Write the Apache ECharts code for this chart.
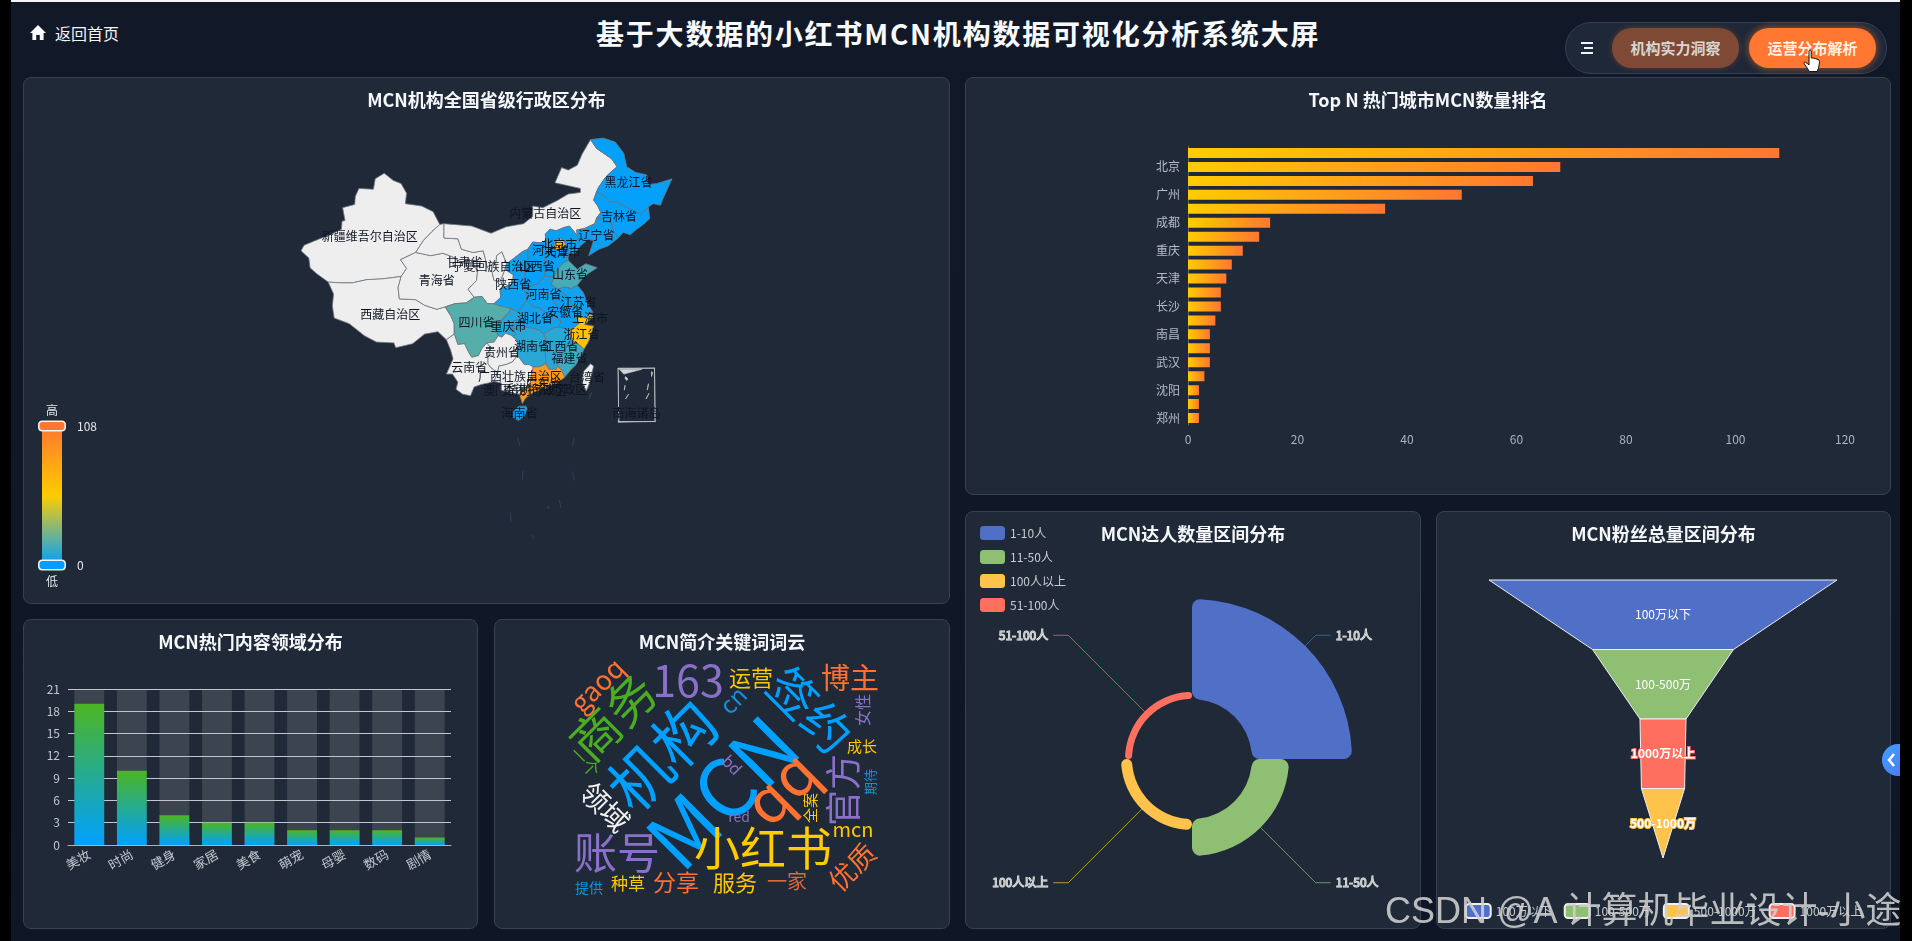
<!DOCTYPE html>
<html lang="zh-CN">
<head>
<meta charset="utf-8">
<title>基于大数据的小红书MCN机构数据可视化分析系统大屏</title>
<script src="https://cdn.jsdelivr.net/npm/echarts@6/dist/echarts.min.js"></script>
<style>
html,body{margin:0;padding:0;width:1912px;height:941px;overflow:hidden;background:#000;font-family:"Noto Sans CJK SC","Noto Sans",sans-serif}
#screen{position:absolute;left:11px;top:0;width:1889px;height:941px;background:linear-gradient(180deg,#111827 0,#0f1726 100%);border-top:2px solid #f4f4f4;box-sizing:border-box}
.panel{position:absolute;background:#1f2937;border:1px solid #364152;border-radius:8px;box-sizing:border-box;overflow:hidden}
.chart{position:absolute;left:-1px;top:-1px}
.abs{position:absolute}
#home{left:55px;top:21px;color:#f1f5f9;font-size:16px;line-height:24px}
#bigtitle{left:596px;top:12px;width:720px;text-align:center;color:#f8fafc;font-size:28px;font-weight:700;letter-spacing:1.8px;line-height:42px;white-space:nowrap}
#nav{left:1565px;top:22px;width:322px;height:52px;border-radius:26px;background:#1e2838;border:1px solid #344154;box-sizing:border-box}
.btn{position:absolute;top:28px;height:40px;width:127px;border-radius:20px;text-align:center;line-height:39px;font-size:15px;font-weight:700}
#b1{left:1612px;background:#7f4a35;color:#d9d6d2;box-shadow:0 0 6px rgba(255,119,48,.25)}
#b2{left:1749px;background:#ff7730;color:#fff1e6;box-shadow:0 0 8px rgba(255,119,48,.65)}
#tab{left:1882px;top:744px;width:18px;height:32px;background:linear-gradient(135deg,#3fa0ff,#4c7df5);border-radius:16px 0 0 16px;color:#fff}
#mark{left:1385px;top:889px;color:rgba(208,208,208,.88);font-size:36px;line-height:44px;white-space:nowrap;font-family:"Liberation Sans","Noto Sans CJK SC",sans-serif}
</style>
</head>
<body>
<div id="screen"></div>
<svg class="abs" style="left:29px;top:24px" width="18" height="18" viewBox="0 0 18 18"><path d="M9 1 L17 9 L14.6 9 L14.6 16 L10.8 16 L10.8 11 L7.2 11 L7.2 16 L3.4 16 L3.4 9 L1 9 Z" fill="#f8fafc"/></svg>
<div class="abs" id="home">返回首页</div>
<div class="abs" id="bigtitle">基于大数据的小红书MCN机构数据可视化分析系统大屏</div>
<div class="abs" id="nav"></div>
<svg class="abs" style="left:1580px;top:41px" width="14" height="14" viewBox="0 0 14 14"><path d="M1 2 H13 M4 7 H13 M1 12 H13" stroke="#f1f5f9" stroke-width="2"/></svg>
<div class="btn" id="b1">机构实力洞察</div>
<div class="btn" id="b2">运营分布解析</div>

<div class="panel" id="p1" style="left:23px;top:77px;width:927px;height:527px"><div class="chart" id="c1" style="width:927px;height:527px"></div></div>
<div class="panel" id="p2" style="left:965px;top:77px;width:926px;height:418px"><div class="chart" id="c2" style="width:926px;height:418px"></div></div>
<div class="panel" id="p3" style="left:23px;top:619px;width:455px;height:310px"><div class="chart" id="c3" style="width:455px;height:310px"></div></div>
<div class="panel" id="p4" style="left:494px;top:619px;width:456px;height:310px"><div class="chart" id="c4" style="width:456px;height:310px"></div></div>
<div class="panel" id="p5" style="left:965px;top:511px;width:456px;height:418px"><div class="chart" id="c5" style="width:456px;height:418px"></div></div>
<div class="panel" id="p6" style="left:1436px;top:511px;width:455px;height:418px"><div class="chart" id="c6" style="width:455px;height:418px"></div></div>

<div class="abs" id="tab"><svg width="18" height="32" viewBox="0 0 18 32"><path d="M12 10 L7 16 L12 22" stroke="#fff" stroke-width="2.6" fill="none"/></svg></div>
<svg class="abs" style="left:1802px;top:49px" width="20" height="24" viewBox="0 0 20 24"><path d="M7 2 C7 0.8 9.2 0.8 9.2 2 L9.2 9 L11.2 9 L13.2 9.6 L16 10.4 C17.4 11 17.6 12 17.4 14 L16.6 19 L15 22.5 L7.5 22.5 L2.2 14.8 C1.4 13.4 3 12.4 4 13.4 L7 16 Z" fill="#fff" stroke="#111" stroke-width="1"/></svg>
<div class="abs" id="mark">CSDN @A 计算机毕业设计-小途</div>

<script>
// ---------- values ----------
const provinceNames = ['北京市','广东省','浙江省','上海市','四川省','山东省','福建省','湖南省','江西省','重庆市','天津市','湖北省','江苏省','陕西省','河南省','安徽省','河北省','辽宁省','山西省','黑龙江省','吉林省','海南省'];
const provinceValues = [68,85,60,55,18,15,13,9,9,8,5,4,4,3,3,2,2,2,1,1,1,1];
const blankRegions = ['新疆维吾尔自治区','西藏自治区','青海省','甘肃省','宁夏回族自治区','内蒙古自治区','云南省','贵州省','广西壮族自治区','台湾省','香港特别行政区','澳门特别行政区'];

// 20 cities, bottom to top; the reference only prints every other name
const cityNames = ['郑州','','沈阳','','武汉','','南昌','','长沙','','天津','','重庆','','成都','','广州','','北京',''];
const cityCounts = [2,2,2,3,4,4,4,5,6,6,7,8,10,13,15,36,50,63,68,108];
const cityTicks = [0,20,40,60,80,100,120];

const domainNames = ['美妆','时尚','健身','家居','美食','萌宠','母婴','数码','剧情'];
const domainCounts = [19,10,4,3,3,2,2,2,1];

const talentBands = ['1-10人','11-50人','100人以上','51-100人'];
const talentCounts = [100,37,11,7];

const fanBands = ['100万以下','100-500万','500-1000万','1000万以上'];
const fanCounts = [121,49,15,16];

const cloudWords = ['MCN','小红书','机构','账号','商务','163','qq','签约','博主','运营','gaoq','cn','女性','成长','期待','官方','bd','red','全案','mcn','优质','领域','一家','服务','分享','种草','提供','一个'];
const cloudWeights = [80,46,62,43,49,43,60,48,29,22,27,24,16,15,13,36,16,14,15,20,27,28,20,22,23,17,14,17];
// ---------- cloud placement, separate from the words ----------
const cloudPlace = [[228,173,45],[269,229,0],[168,136,45],[123,234,0],[119,98,45],[194,62,0],[286,168,45],[316,91,-45],[356,59,0],[257,59,0],[103,66,45],[239,81,45],[369,91,90],[368,127,0],[376,163,90],[349,171,90],[238,146,-45],[245,198,0],[316,189,90],[359,210,0],[358,248,45],[111,188,-45],[293,262,0],[241,264,0],[182,263,0],[134,265,0],[95,269,0],[91,143,-45]];
const cloudInk = ['#00a0ff','#ffcc00','#00a0ff','#8a70c8','#4aae20','#8a70c8','#ff7130','#00a0ff','#ff7130','#ffc800','#ff7130','#1a8fd8','#8a70c8','#ffc800','#1a8fd8','#8a70c8','#8a70c8','#8a70c8','#ffc800','#ffc800','#ff7130','#f0f0f0','#e0683a','#ffc800','#ff7130','#ffc800','#1a8fd8','#4aae20'];

// ---------- province outlines (lon,lat), label anchor, since no map file can be loaded ----------
const outlines = [
['新疆维吾尔自治区',[84.9,41.2],[73.5,39.4,74,40.1,75.6,40.6,76.9,41,78.6,41.5,80.2,42.1,80.3,43.1,80.8,43.2,80.4,44.8,82.4,45.2,82.5,46.2,83.1,47.2,85.5,47.1,85.8,48.4,87.3,49.1,88.8,48.2,90.1,47.8,91,46.6,90.8,45.3,93.5,45,95.4,44.3,96.5,42.7,95.2,41.8,93.8,40.7,92.5,39.2,90,38.3,91,37.2,90.1,36.2,87,35.9,84.4,35.8,82,35.4,80,35.4,78,35.5,76,36.6,75,37.3,74.8,38.5]],
['西藏自治区',[88.3,31.5],[78,35.5,80,35.4,82,35.4,84.4,35.8,87,35.9,90.1,36.2,89.6,34.8,89.8,33.4,92.5,33.3,94,32.6,96,32.1,97.4,32.4,98.4,31.2,98.9,30.3,98.9,29,97.6,28.3,96.2,29.3,94,29,92,27.8,89.2,27.3,88.9,27.9,86,28,84,28.8,81.5,30.3,79,31,78.7,32.5,78.9,34]],
['青海省',[96,35.75],[92.5,39.2,95,38.8,97,39.1,98.5,38.7,100,38,101.8,37.7,102.8,37,102.6,35.7,101.2,34.6,102.2,33.6,100.9,32.9,99,32.8,97.4,32.4,96,32.1,94,32.6,92.5,33.3,89.8,33.4,89.6,34.8,90.1,36.2,91,37.2,90,38.3]],
['甘肃省',[100.6,37.9],[96.5,42.7,97.2,42.8,97.2,41,99.5,40.9,100.1,39.6,102,39.2,103.7,39.4,104.2,38,104.3,37.4,105.2,36.7,105.5,35.7,106.5,35.6,106.9,36.3,107.3,37.1,108.7,36.4,108.6,35.3,107.3,34.9,106.5,34.6,106.6,33.6,105.5,32.8,104.4,32.8,103.5,33.7,102.2,33.6,101.2,34.6,102.6,35.7,102.8,37,101.8,37.7,100,38,98.5,38.7,97,39.1,95,38.8,92.5,39.2,93.8,40.7,95.2,41.8]],
['宁夏回族自治区',[105.4,37.4],[104.3,37.4,105.2,36.7,105.5,35.7,106.5,35.6,106.9,36.3,107.3,37.1,107.6,37.8,106.8,39.3,105.9,38.8,105.8,37.9]],
['内蒙古自治区',[114,44.1],[97.2,42.8,100.3,42.6,101.8,42.5,105,41.6,107.5,42.4,110.4,42.8,111.9,43.7,111.9,45,113.6,44.8,116,45.7,117.8,46.5,119.8,46.7,119.8,47.2,115.6,47.9,116.7,49.8,117.8,49.5,119.3,50.1,120.1,51.5,121.5,53.3,122.5,52.2,125,50.9,125.9,49.9,124.5,49,123.9,48.5,122.8,47.3,122.5,46.8,122,45.75,122.7,45,123.2,44.2,122.5,43.5,122.2,42.8,120.5,42.2,119.2,42,119.3,41.3,118,42.5,117,42.3,115.8,41.9,114.8,42.1,114,41.5,114.1,40.7,113.2,40.4,111.9,40.5,111.1,39.6,110.2,39.3,108.5,38.3,107.6,37.8,106.8,39.3,105.9,38.8,105.8,37.9,104.3,37.4,104.2,38,103.7,39.4,102,39.2,100.1,39.6,99.5,40.9,97.2,41]],
['黑龙江省',[127.8,48],[121.5,53.3,123.6,53.5,125.6,53,127,51.6,127.5,49.9,129,49.2,130.8,48.9,131,47.7,132.5,47.8,135,48.4,133.5,45.9,133.1,45.1,131.9,45.3,131.1,44.9,129.8,43.9,128.5,44.5,127.3,44.9,125.9,45.5,124.7,45.5,123.9,46.2,122.5,46.8,122.8,47.3,123.9,48.5,124.5,49,125.9,49.9,125,50.9,122.5,52.2]],
['吉林省',[126.2,43.75],[122.5,46.8,123.9,46.2,124.7,45.5,125.9,45.5,127.3,44.9,128.5,44.5,129.8,43.9,131.1,44.9,131.3,43.4,130.4,42.8,129,42,128.1,41.4,126.9,41.7,126,40.95,125.2,42.1,125,42.8,124.4,43,123.6,43.4,122.5,43.5,123.2,44.2,122.7,45,122,45.75]],
['辽宁省',[122.5,41.3],[122.5,43.5,123.6,43.4,124.4,43,125,42.8,125.2,42.1,126,40.95,124.4,40,122.9,39.6,121.2,38.8,121.7,40,122,40.7,121,40.8,119.8,40,119.3,41.3,119.2,42,120.5,42.2,122.2,42.8]],
['河北省',[114.8,39.5],[119.3,41.3,118,42.5,117,42.3,115.8,41.9,114.8,42.1,114,41.5,114.1,40.7,114.3,39.6,113.9,38.5,113.7,37.1,114,36.3,115.4,36.1,116.2,37.3,117,37.9,117.8,38.2,117.7,39.1,118.9,39.1,119.8,40]],
['北京市',[116.3,40.25],[115.5,39.6,116.2,39.5,116.8,39.7,117.4,40.2,117,40.7,116.3,41,115.5,40.3]],
['天津市',[116.9,39.25],[116.9,39.7,117.2,38.6,117.8,38.6,117.8,39.3,117.7,40,117.3,40.1]],
['山西省',[112.6,37.5],[114.1,40.7,114.3,39.6,113.9,38.5,113.7,37.1,114,36.3,113.5,35.9,112.9,35.3,112,35.1,110.4,34.6,110.6,35.6,110.6,36.6,111.1,38,111.1,39.6,111.9,40.5,113.2,40.4]],
['陕西省',[108.7,35.25],[111.1,39.6,110.2,39.3,108.5,38.3,107.6,37.8,107.3,37.1,108.7,36.4,108.6,35.3,107.3,34.9,106.5,34.6,106.6,33.6,105.5,32.8,106.5,32.5,108.3,32.2,109.5,31.7,110.2,32.5,111,33.2,110.9,33.9,110.4,34.6,110.6,35.6,110.6,36.6,111.1,38]],
['河南省',[113.7,33.9],[114,36.3,115.4,36.1,115,35.2,116.2,34.6,115.7,33.8,115.3,33.2,115.9,32.5,115.2,32,115,31.4,113.8,31.8,113,32.3,112,32.4,111,33.2,110.9,33.9,110.4,34.6,112,35.1,112.9,35.3,113.5,35.9]],
['山东省',[118.1,36.4],[115.4,36.1,116.2,37.3,117,37.9,117.8,38.2,118.9,37.4,119.3,37.1,120.7,37.8,122.6,37.3,121,36.5,120,35.8,119.3,35.1,118.3,34.7,117.1,34.9,116.2,34.6,115,35.2]],
['江苏省',[119.5,32.9],[119.3,35.1,120.3,34.2,120.9,33,121.9,31.7,121.2,31.7,120.9,31,119.9,31.1,119.2,31.1,119,31.8,119.5,32.3,118.5,32.5,118.3,33,117.8,33.6,116.9,34.1,116.2,34.6,117.1,34.9,118.3,34.7]],
['安徽省',[117.3,31.7],[116.2,34.6,116.9,34.1,117.8,33.6,118.3,33,118.5,32.5,119.5,32.3,119,31.8,119.2,31.1,119.6,30.3,118.9,29.9,118,29.5,117.2,29.7,116.2,29.9,116.6,30.6,115.9,31.1,115,31.4,115.2,32,115.9,32.5,115.3,33.2,115.7,33.8]],
['上海市',[121.4,31],[121.1,31.5,121.8,31.4,121.9,31,121.3,30.8,120.95,31.05]],
['浙江省',[120,29],[120.9,31,121.3,30.7,120.5,30.2,122,30,121.6,29,121.2,28.1,120.4,27.1,119.7,27.6,118.7,28,118.2,28.9,118,29.5,118.9,29.9,119.6,30.3,119.2,31.1,119.9,31.1]],
['福建省',[118,26],[117.2,23.6,116.7,24.5,116,25,116.5,26.3,117.2,27,117.9,27.8,118.7,28,119.7,27.6,120.4,27.1,119.9,26.2,119.1,25.2,118.2,24.5]],
['江西省',[116.5,27.5],[118,29.5,118.2,28.9,118.7,28,117.9,27.8,117.2,27,116.5,26.3,116,25,115.8,24.6,114.6,24.6,114.1,25.3,114,26.3,114,27,114.2,28,113.7,29,114.3,29.3,115.3,29.8,116.2,29.9,117.2,29.7]],
['湖北省',[112.3,31],[115,31.4,115.9,31.1,116.6,30.6,116.2,29.9,115.3,29.8,114.3,29.3,113.7,29,113,29.5,112,29.7,110.8,29.9,109.6,29.5,108.5,29.8,108.6,30.6,110.1,31,110.2,31.5,109.5,31.7,110.2,32.5,111,33.2,112,32.4,113,32.3,113.8,31.8]],
['重庆市',[107.9,30],[108.3,32.2,109.5,31.7,110.2,31.5,110.1,31,108.6,30.6,108.5,29.8,109.1,29,108.6,28.7,108.2,28.9,107.4,29.1,106.8,28.6,106.2,28.8,105.7,29.8,106.2,30.3,106.9,30.9,107.9,31.7]],
['四川省',[102.6,30.5],[102.2,33.6,103.5,33.7,104.4,32.8,105.5,32.8,106.5,32.5,108.3,32.2,107.9,31.7,106.9,30.9,106.2,30.3,105.7,29.8,106.2,28.8,105.5,28,104.3,27.9,103.5,27.2,102.9,26.3,101.8,26.1,101.3,26.7,100.6,27.8,99.5,27.7,98.9,29,98.9,30.3,98.4,31.2,97.4,32.4,99,32.8,100.9,32.9]],
['云南省',[101.4,24.8],[98.9,29,99.5,27.7,100.6,27.8,101.3,26.7,101.8,26.1,102.9,26.3,103.5,27.2,104.3,27.9,105,27.3,104.5,26.6,104.5,25.3,105,24.8,106.1,24.2,105.5,23.1,104.6,22.9,103.4,22.7,102.2,22.4,101.6,21.3,100.3,21.5,99.2,22.1,99.5,23,98.6,24,97.6,24,98.7,25.9,98.3,27,97.6,28.3]],
['贵州省',[106.8,26.7],[104.3,27.9,105.5,28,106.2,28.8,106.8,28.6,107.4,29.1,108.2,28.9,108.6,28.7,109.4,28.2,109.3,27.2,109.4,26.3,108.5,25.5,107.5,25.2,106.3,25,106.1,24.2,105,24.8,104.5,25.3,104.5,26.6,105,27.3]],
['湖南省',[111.8,27.5],[113.7,29,114.2,28,114,27,114,26.3,114.1,25.3,113,24.9,112,24.9,111.3,25.2,110.5,25.2,109.4,26.3,109.3,27.2,109.4,28.2,108.6,28.7,109.1,29,108.5,29.8,109.6,29.5,110.8,29.9,112,29.7,113,29.5]],
['广西壮族自治区',[109.8,23.7],[111.3,25.2,112,24.9,111.7,24,111.5,22.9,110.7,22.3,109.7,21.5,108.3,21.6,106.7,22,106.7,22.9,105.5,23.1,106.1,24.2,106.3,25,107.5,25.2,108.5,25.5,109.4,26.3,110.5,25.2]],
['广东省',[113.7,22.8],[117.2,23.6,116.7,24.5,116,25,115.8,24.6,114.6,24.6,114.1,25.3,113,24.9,112,24.9,111.7,24,111.5,22.9,110.7,22.3,109.7,21.5,110.2,20.3,110.7,21,112,21.7,113.6,22.2,114.4,22.5,116,22.9]],
['海南省',[109.7,19.1],[108.7,19.3,109.6,20,110.8,20,111,19.6,110.4,18.6,109.5,18.2,108.7,18.6]],
['台湾省',[120.9,23.6],[121.5,25.3,122,25,121.4,23,120.8,21.9,120.1,23,120.3,24.3]],
['香港特别行政区',[114,22.1],[114,22.6,114.4,22.6,114.4,22.2,114,22.2]],
['澳门特别行政区',[110.6,22],[113.5,22.25,113.65,22.25,113.65,22.05,113.5,22.05]]
];
// South China Sea box: four thin frame bars, then its little islands
const insetFrame = [[[126.07,24.75],[132.2,24.75],[132.2,24.67],[126.07,24.67]],[[126.07,18.08],[132.2,18.08],[132.2,18],[126.07,18]],[[126.07,24.75],[126.17,24.75],[126.17,18],[126.07,18]],[[132.1,24.75],[132.2,24.75],[132.2,18],[132.1,18]]];
const insetIslands = [[[126.3,24.6],[130,24.6],[127,24]],[[127.3,23.7],[127.7,23.4],[127.5,23.2],[127.2,23.5]],[[131.6,24.3],[131.8,24.2],[131.6,23.7],[131.45,23.8]],[[131.1,22.8],[131.2,22.7],[130.9,22],[130.8,22.1]],[[127.2,22.6],[127.3,22.5],[127.1,22],[127,22.1]],[[127.8,21.5],[127.95,21.4],[127.3,20.9],[127.2,21]],[[131.2,21.6],[131.35,21.5],[130.7,20.9],[130.6,21]]];
// faint reef dashes in the sea; they also carry the map's south edge
const reefDashes = [[[121.6,21.8],[121.8,21.7],[121.3,20.8],[121.1,20.9]],[[109.3,16.1],[109.5,16.1],[109.9,15],[109.7,15]],[[118.7,16.1],[118.9,16.1],[118.6,15],[118.4,15]],[[110.2,11.9],[110.4,11.9],[110.3,10.8],[110.1,10.8]],[[118.4,11.8],[118.6,11.8],[118.9,10.7],[118.7,10.7]],[[108.1,6.7],[108.3,6.7],[108.4,5.5],[108.2,5.5]],[[114.3,7.5],[114.7,7.5],[114.7,7.2],[114.3,7.2]],[[116.2,8.3],[116.4,8.3],[116.7,7.3],[116.5,7.3]],[[111.8,3.9],[112,3.9],[112.2,3.4],[112,3.4]]];

// ---------- build ----------
const FONT = '"Noto Sans CJK SC","Noto Sans",sans-serif';
const features = outlines.map(function(o){
  const ring = [];
  for (let i = 0; i < o[2].length; i += 2) ring.push([o[2][i], o[2][i+1]]);
  ring.push(ring[0]);
  return {type:'Feature',properties:{name:o[0],cp:o[1]},geometry:{type:'Polygon',coordinates:[ring]}};
});
const closed = function(r){ return [r.concat([r[0]])]; };
features.push({type:'Feature',properties:{name:'南海诸岛',cp:[129.1,19.1]},geometry:{type:'MultiPolygon',coordinates:insetFrame.concat(insetIslands).map(closed)}});
features.push({type:'Feature',properties:{name:'海上岛礁',cp:[115,10]},geometry:{type:'MultiPolygon',coordinates:reefDashes.map(closed)}});
echarts.registerMap('cn',{type:'FeatureCollection',features:features});

const titleOf = function(t){ return {text:t,left:'center',top:9,textStyle:{color:'#f5f7fa',fontSize:18,fontWeight:'bold',fontFamily:FONT}}; };
const PIE = ['#4f70c6','#8ebf73','#ffc24b','#ff6f60'];
const chart = function(id){ return echarts.init(document.getElementById(id)); };

const mapData = provinceNames.map(function(n,i){return {name:n,value:provinceValues[i]};})
  .concat(blankRegions.map(function(n){return {name:n};}));
mapData.push({name:'南海诸岛',itemStyle:{areaColor:'#cfd2d7',borderColor:'#c4c8ce',borderWidth:0.7}});
mapData.push({name:'海上岛礁',label:{show:false},itemStyle:{areaColor:'#2d3e50',borderWidth:0}});

chart('c1').setOption({
  textStyle:{fontFamily:FONT},
  title:titleOf('MCN机构全国省级行政区分布'),
  visualMap:{type:'continuous',min:0,max:108,left:0,top:312,itemWidth:20,itemHeight:139,calculable:true,text:['高','低'],
    textStyle:{color:'#e4e7ec',fontSize:12,fontFamily:FONT},
    handleIcon:'path://M3,0 H22 Q25,0 25,3 V5 Q25,8 22,8 H3 Q0,8 0,5 V3 Q0,0 3,0 Z',handleSize:'125%',handleStyle:{borderColor:'#f4f4f4',borderWidth:1.5},indicatorSize:0,
    inRange:{color:['#009fff','#ffcc00','#ff7730']}},
  series:[{type:'map',map:'cn',left:278,top:61,width:371,height:401,roam:false,
    label:{show:true,color:'#0f1520',fontSize:12,fontFamily:FONT},
    itemStyle:{areaColor:'#eeeeee',borderColor:'#6f7680',borderWidth:0.8},
    emphasis:{disabled:true},
    data:mapData}]
});

chart('c2').setOption({
  textStyle:{fontFamily:FONT},
  title:titleOf('Top N 热门城市MCN数量排名'),
  grid:{left:223,right:46,top:69,bottom:70},
  xAxis:{type:'value',min:cityTicks[0],max:cityTicks[cityTicks.length-1],interval:20,splitLine:{show:false},axisLine:{show:false},axisTick:{show:false},
    axisLabel:{color:'#a9b2be',fontSize:12,margin:8}},
  yAxis:{type:'category',data:cityNames,axisLine:{lineStyle:{color:'#5d6675'}},axisTick:{interval:1,lineStyle:{color:'#7b8492'}},
    axisLabel:{color:'#b5bcc7',fontSize:12,interval:1,margin:8}},
  series:[{type:'bar',data:cityCounts,barWidth:10,
    itemStyle:{color:new echarts.graphic.LinearGradient(0,0,1,0,[{offset:0,color:'#ffcc00'},{offset:1,color:'#ff7730'}])}}]
});

chart('c3').setOption({
  textStyle:{fontFamily:FONT},
  title:titleOf('MCN热门内容领域分布'),
  grid:{left:45,right:27,top:70,bottom:84},
  xAxis:{type:'category',data:domainNames,axisLine:{lineStyle:{color:'#aab2bd'}},axisTick:{lineStyle:{color:'#aab2bd'}},
    axisLabel:{color:'#c3c8d0',fontSize:13,rotate:30,interval:0,margin:8}},
  yAxis:{type:'value',min:0,max:21,interval:3,axisLine:{show:false},axisTick:{show:false},
    axisLabel:{color:'#c3c8d0',fontSize:12},splitLine:{lineStyle:{color:'rgba(235,240,248,.8)',width:1}}},
  series:[{type:'bar',data:domainCounts,barWidth:'70%',showBackground:true,backgroundStyle:{color:'rgba(180,180,180,.2)'},
    itemStyle:{color:new echarts.graphic.LinearGradient(0,0,0,1,[{offset:0,color:'#4cb522'},{offset:1,color:'#00a1ff'}])}}]
});

chart('c4').setOption({
  textStyle:{fontFamily:FONT},
  title:titleOf('MCN简介关键词词云'),
  series:[{type:'custom',coordinateSystem:'none',data:cloudWords.map(function(w,i){return [cloudWeights[i]];}),
    renderItem:function(params){
      const i = params.dataIndex, p = cloudPlace[i];
      return {type:'text',x:p[0],y:p[1],rotation:p[2]*Math.PI/180,
        style:{text:cloudWords[i],fill:cloudInk[i],font:cloudWeights[i]+'px '+FONT,align:'center',verticalAlign:'middle'}};
    }}]
});

chart('c5').setOption({
  textStyle:{fontFamily:FONT},
  title:titleOf('MCN达人数量区间分布'),
  color:PIE,
  legend:{orient:'vertical',left:10,top:10,itemWidth:25,itemHeight:14,itemGap:10,data:talentBands,textStyle:{color:'#c8ccd2',fontSize:12}},
  series:[{type:'pie',roseType:'area',center:[227,248],radius:[60,160],
    itemStyle:{borderRadius:8},
    label:{color:'#c4c4c4',fontSize:12,textBorderColor:'#e9e9e9',textBorderWidth:1},
    labelLine:{length:15,length2:15,lineStyle:{opacity:.7}},
    data:talentBands.map(function(n,i){return {name:n,value:talentCounts[i]};})}]
});

chart('c6').setOption({
  textStyle:{fontFamily:FONT},
  title:titleOf('MCN粉丝总量区间分布'),
  color:PIE,
  legend:{left:'center',top:387,itemWidth:25,itemHeight:14,itemGap:12,data:fanBands,textStyle:{color:'#c8ccd2',fontSize:12}},
  series:[{type:'funnel',left:53,top:69,width:348,height:278,min:0,max:fanCounts[0],sort:'descending',gap:0,
    itemStyle:{borderColor:'#f0f0f0',borderWidth:1},
    label:{show:true,position:'inside',color:'#fff',fontSize:12},
    labelLine:{show:false},
    data:fanBands.map(function(n,i){
      const small = i >= 2;
      return {name:n,value:fanCounts[i],label:small?{textBorderColor:PIE[i],textBorderWidth:2,fontWeight:'bold'}:{}};
    })}]
});
</script>
</body>
</html>
